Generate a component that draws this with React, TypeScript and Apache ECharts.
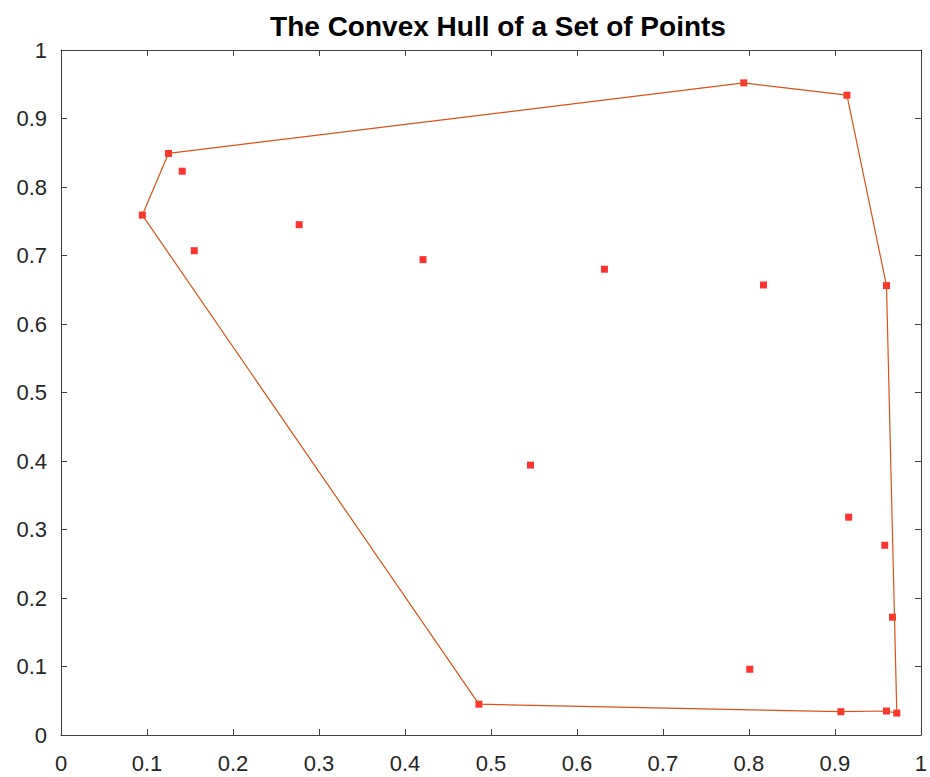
import React, { useEffect, useRef } from "react";
import * as echarts from "echarts";

const pointsX = [0.0946, 0.125, 0.141, 0.155, 0.277, 0.421, 0.632, 0.817, 0.546, 0.794, 0.914, 0.960, 0.916, 0.958, 0.967, 0.801, 0.907, 0.960, 0.972, 0.486];
const pointsY = [0.759, 0.849, 0.823, 0.707, 0.745, 0.694, 0.680, 0.657, 0.394, 0.952, 0.934, 0.656, 0.318, 0.277, 0.172, 0.096, 0.034, 0.035, 0.032, 0.045];
const hullX = [0.0946, 0.125, 0.794, 0.914, 0.960, 0.972, 0.960, 0.907, 0.486, 0.0946];
const hullY = [0.759, 0.849, 0.952, 0.934, 0.656, 0.032, 0.035, 0.034, 0.045, 0.759];
const titleText = "The Convex Hull of a Set of Points";

export default function App() {
  const ref = useRef<HTMLDivElement>(null);
  useEffect(() => {
    if (!ref.current) return;
    const chart = echarts.init(ref.current, undefined, { renderer: "svg" });
    const axisColor = "#404040";
    const labelStyle = { color: "#262626", fontSize: 22, fontFamily: "Liberation Sans, Arial, sans-serif" };
    const baseAxis = {
      type: "value" as const,
      min: 0,
      max: 1,
      interval: 0.1,
      splitLine: { show: false },
      axisLine: { show: true, onZero: false, lineStyle: { color: axisColor, width: 1 } },
      axisTick: { show: true, inside: true, length: 6, lineStyle: { color: axisColor, width: 1 } },
    };
    const fmt = (v: number) => (Math.abs(v - Math.round(v)) < 1e-9 ? String(Math.round(v)) : String(+v.toFixed(1)));
    chart.setOption({
      animation: false,
      backgroundColor: "#ffffff",
      title: {
        text: titleText,
        left: 493,
        textAlign: "center",
        top: 7,
        textStyle: { fontSize: 28, fontWeight: "bold", color: "#000", fontFamily: "Liberation Sans, Arial, sans-serif" },
      },
      grid: { left: 61, top: 50, right: 5, bottom: 42 },
      xAxis: [
        { ...baseAxis, position: "bottom", axisLabel: { ...labelStyle, margin: 17, formatter: fmt } },
        { ...baseAxis, position: "top", axisLabel: { show: false } },
      ],
      yAxis: [
        { ...baseAxis, position: "left", axisLabel: { ...labelStyle, margin: 14, formatter: fmt } },
        { ...baseAxis, position: "right", axisLabel: { show: false } },
      ],
      series: [
        {
          type: "line",
          data: hullX.map((x, i) => [x, hullY[i]]),
          showSymbol: false,
          symbol: "none",
          lineStyle: { color: "#D95319", width: 1.2 },
          silent: true,
        },
        {
          type: "scatter",
          data: pointsX.map((x, i) => [x, pointsY[i]]),
          symbol: "rect",
          symbolSize: 7,
          itemStyle: { color: "#ff0000" },
          silent: true,
        },
      ],
    });
    return () => chart.dispose();
  }, []);
  return <div ref={ref} style={{ position: "fixed", left: 0, top: 0, width: 930, height: 777 }} />;
}
